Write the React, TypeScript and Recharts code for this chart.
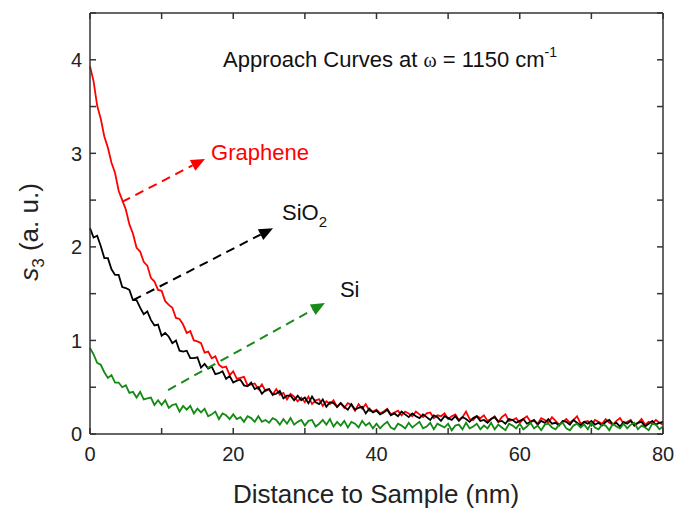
import React from "react";
import { LineChart, Line, XAxis, YAxis, ReferenceLine } from "recharts";

// s3 signal, sampled every 0.5 nm from 0 to 80 nm
const graphene = [
  3.93, 3.77, 3.51, 3.37, 3.18, 3.06, 2.9, 2.79, 2.6, 2.5,
  2.4, 2.24, 2.14, 1.99, 1.95, 1.84, 1.8, 1.67, 1.63, 1.54,
  1.53, 1.42, 1.38, 1.35, 1.24, 1.23, 1.17, 1.08, 1.1, 1.0,
  0.99, 0.97, 0.87, 0.88, 0.81, 0.83, 0.74, 0.71, 0.72, 0.63,
  0.67, 0.59, 0.6, 0.61, 0.52, 0.53, 0.54, 0.48, 0.53, 0.46,
  0.48, 0.42, 0.48, 0.42, 0.44, 0.37, 0.43, 0.4, 0.35, 0.39,
  0.34, 0.4, 0.32, 0.36, 0.37, 0.3, 0.35, 0.32, 0.36, 0.29,
  0.33, 0.28, 0.33, 0.31, 0.25, 0.32, 0.27, 0.32, 0.25, 0.24,
  0.26, 0.22, 0.24, 0.27, 0.21, 0.23, 0.25, 0.2, 0.24, 0.22,
  0.19, 0.24, 0.21, 0.18, 0.22, 0.23, 0.17, 0.2, 0.19, 0.22,
  0.16, 0.19, 0.21, 0.15, 0.18, 0.24, 0.16, 0.15, 0.19, 0.17,
  0.2, 0.14, 0.16, 0.19, 0.13, 0.18, 0.21, 0.14, 0.15, 0.17,
  0.12, 0.16, 0.19, 0.13, 0.14, 0.11, 0.17, 0.15, 0.12, 0.18,
  0.14, 0.1, 0.13, 0.16, 0.12, 0.15, 0.19, 0.11, 0.13, 0.14,
  0.09, 0.15, 0.13, 0.11, 0.16, 0.12, 0.1, 0.14, 0.17, 0.11,
  0.13, 0.15, 0.09, 0.12, 0.16, 0.1, 0.13, 0.11, 0.15, 0.12,
  0.1,
];

const sio2 = [
  2.2, 2.1, 2.12, 2.01, 1.88, 1.88, 1.76, 1.7, 1.7, 1.57,
  1.56, 1.54, 1.43, 1.43, 1.35, 1.28, 1.31, 1.22, 1.16, 1.17,
  1.05, 1.08, 1.04, 0.97, 1.0, 0.89, 0.88, 0.89, 0.81, 0.81,
  0.82, 0.71, 0.75, 0.7, 0.72, 0.64, 0.65, 0.67, 0.59, 0.62,
  0.55, 0.57, 0.58, 0.52, 0.51, 0.55, 0.48, 0.5, 0.43, 0.47,
  0.48, 0.42, 0.43, 0.46, 0.38, 0.41, 0.41, 0.36, 0.41, 0.36,
  0.39, 0.33, 0.4, 0.34, 0.32, 0.37, 0.29, 0.34, 0.33, 0.29,
  0.33, 0.29, 0.26, 0.32, 0.26, 0.28, 0.29, 0.22, 0.27, 0.23,
  0.25, 0.21, 0.23, 0.26, 0.2, 0.22, 0.19, 0.24, 0.21, 0.18,
  0.22, 0.19, 0.17, 0.21, 0.18, 0.15, 0.2, 0.18, 0.14, 0.19,
  0.17, 0.15, 0.19, 0.14, 0.18, 0.16, 0.13, 0.17, 0.19, 0.14,
  0.15, 0.12, 0.16, 0.18, 0.13, 0.14, 0.11, 0.16, 0.15, 0.12,
  0.14, 0.16, 0.11, 0.13, 0.15, 0.1, 0.14, 0.12, 0.16, 0.11,
  0.12, 0.09, 0.14, 0.13, 0.1, 0.15, 0.12, 0.09, 0.13, 0.11,
  0.14, 0.1, 0.12, 0.09, 0.13, 0.15, 0.1, 0.12, 0.08, 0.13,
  0.11, 0.14, 0.09, 0.12, 0.13, 0.08, 0.11, 0.14, 0.1, 0.12,
  0.13,
];

const si = [
  0.92, 0.85, 0.76, 0.74, 0.66, 0.6, 0.63, 0.55, 0.55, 0.5,
  0.52, 0.44, 0.45, 0.39, 0.45, 0.37, 0.38, 0.39, 0.31, 0.36,
  0.31, 0.36, 0.28, 0.31, 0.32, 0.24, 0.3, 0.26, 0.3, 0.22,
  0.27, 0.23, 0.27, 0.19, 0.21, 0.24, 0.16, 0.22, 0.2, 0.16,
  0.21, 0.16, 0.18, 0.13, 0.19, 0.17, 0.13, 0.19, 0.13, 0.15,
  0.12, 0.17, 0.15, 0.1, 0.16, 0.11, 0.17, 0.1, 0.13, 0.15,
  0.09, 0.14, 0.15, 0.08, 0.11, 0.15, 0.1, 0.16, 0.08, 0.13,
  0.09, 0.14, 0.07, 0.13, 0.11, 0.07, 0.14, 0.09, 0.12, 0.06,
  0.11, 0.06, 0.1, 0.13, 0.07, 0.05, 0.11, 0.09, 0.06, 0.12,
  0.07, 0.1, 0.13, 0.06, 0.08, 0.12, 0.05, 0.11, 0.09, 0.07,
  0.11, 0.04, 0.09, 0.1, 0.05, 0.12, 0.06, 0.08, 0.11, 0.05,
  0.09, 0.06, 0.12, 0.05, 0.1, 0.07, 0.04, 0.11, 0.09, 0.06,
  0.11, 0.05, 0.08, 0.12, 0.06, 0.09, 0.04, 0.1, 0.11, 0.07,
  0.05, 0.1, 0.12, 0.06, 0.04, 0.09, 0.11, 0.07, 0.1, 0.05,
  0.12, 0.07, 0.05, 0.1, 0.09, 0.04, 0.11, 0.08, 0.06, 0.11,
  0.06, 0.1, 0.12, 0.05, 0.09, 0.07, 0.04, 0.11, 0.1, 0.05,
  0.08,
];

const xTicks = [0, 10, 20, 30, 40, 50, 60, 70, 80];
const xLabeled = [0, 20, 40, 60, 80];
const yTicks = [0, 0.5, 1, 1.5, 2, 2.5, 3, 3.5, 4, 4.5];
const yLabeled = [0, 1, 2, 3, 4];

const data = graphene.map((v, i) => ({
  d: i * 0.5,
  graphene: v,
  sio2: sio2[i],
  si: si[i],
}));

const arrows = [
  { label: "Graphene", sub: "", color: "#ff0000", textColor: "#ff0000", from: { x: 4.47, y: 2.48 }, to: { x: 16.06, y: 2.94 }, dx: 6, dy: 1 },
  { label: "SiO", sub: "2", color: "#000000", textColor: "#111", from: { x: 6.0, y: 1.43 }, to: { x: 25.55, y: 2.2 }, dx: 9, dy: -8 },
  { label: "Si", sub: "", color: "#1a8a1a", textColor: "#111", from: { x: 10.9, y: 0.47 }, to: { x: 32.8, y: 1.4 }, dx: 15, dy: -6 },
];

const font = '"Liberation Sans", Arial, sans-serif';
const axisColor = "#333";
const tickLen = 6;

const BottomTick = (props: any) => {
  const { x, y, payload } = props;
  if (!xLabeled.includes(payload.value)) return <g />;
  return (
    <text x={x} y={y + 13} dy="0.71em" textAnchor="middle" fontSize={20} fill="#222" fontFamily={font}>
      {payload.value}
    </text>
  );
};

const LeftTick = (props: any) => {
  const { x, y, payload } = props;
  if (!yLabeled.includes(payload.value)) return <g />;
  return (
    <text x={x - 8} y={y} dy="0.36em" textAnchor="end" fontSize={20} fill="#222" fontFamily={font}>
      {payload.value}
    </text>
  );
};

const EmptyTick = () => <g />;

// inward tick marks at both ends of a full-height / full-width reference line
const VTicks = (props: any) => {
  const { x1, y1, x2, y2 } = props;
  const top = Math.min(y1, y2);
  const bottom = Math.max(y1, y2);
  return (
    <g>
      <line x1={x1} x2={x1} y1={bottom} y2={bottom - tickLen} stroke={axisColor} strokeWidth={1.5} />
      <line x1={x2} x2={x2} y1={top} y2={top + tickLen} stroke={axisColor} strokeWidth={1.5} />
    </g>
  );
};

const HTicks = (props: any) => {
  const { x1, y1, x2, y2 } = props;
  const left = Math.min(x1, x2);
  const right = Math.max(x1, x2);
  return (
    <g>
      <line x1={left} x2={left + tickLen} y1={y1} y2={y1} stroke={axisColor} strokeWidth={1.5} />
      <line x1={right} x2={right - tickLen} y1={y2} y2={y2} stroke={axisColor} strokeWidth={1.5} />
    </g>
  );
};

const arrowShape = (a: (typeof arrows)[number]) => (props: any) => {
  const { x1, y1, x2, y2 } = props;
  const ang = Math.atan2(y2 - y1, x2 - x1);
  const len = 14;
  const half = 6;
  const bx = x2 - len * Math.cos(ang);
  const by = y2 - len * Math.sin(ang);
  const pts = `${x2},${y2} ${bx + half * Math.sin(ang)},${by - half * Math.cos(ang)} ${bx - half * Math.sin(ang)},${by + half * Math.cos(ang)}`;
  return (
    <g>
      <line x1={x1} y1={y1} x2={bx} y2={by} stroke={a.color} strokeWidth={2} strokeDasharray="9 6" />
      <polygon points={pts} fill={a.color} />
      <text x={x2 + a.dx} y={y2 + a.dy} fontSize={22} fill={a.textColor} fontFamily={font}>
        {a.label}
        {a.sub && (
          <tspan fontSize={15} dy={7}>
            {a.sub}
          </tspan>
        )}
      </text>
    </g>
  );
};

export default function App() {
  return (
    <div style={{ position: "absolute", left: 0, top: 0, width: 676, height: 510, background: "#fff" }}>
      <LineChart
        width={676}
        height={510}
        data={data}
        margin={{ top: 12, right: 12, bottom: 36, left: 30 }}
      >
        <XAxis
          dataKey="d"
          type="number"
          domain={[0, 80]}
          ticks={xTicks}
          interval={0}
          height={40}
          stroke={axisColor}
          strokeWidth={1.5}
          tickLine={false}
          tickSize={0}
          tickMargin={0}
          tick={BottomTick}
        />
        <XAxis
          xAxisId="top"
          orientation="top"
          type="number"
          domain={[0, 80]}
          height={1}
          stroke={axisColor}
          strokeWidth={1.5}
          tickLine={false}
          tick={EmptyTick}
        />
        <YAxis
          type="number"
          domain={[0, 4.5]}
          ticks={yTicks}
          interval={0}
          width={60}
          stroke={axisColor}
          strokeWidth={1.5}
          tickLine={false}
          tickSize={0}
          tickMargin={0}
          tick={LeftTick}
        />
        <YAxis
          yAxisId="right"
          orientation="right"
          type="number"
          domain={[0, 4.5]}
          width={1}
          stroke={axisColor}
          strokeWidth={1.5}
          tickLine={false}
          tick={EmptyTick}
        />
        {xTicks.map((t) => (
          <ReferenceLine key={`vx${t}`} x={t} shape={VTicks} />
        ))}
        {yTicks.map((t) => (
          <ReferenceLine key={`hy${t}`} y={t} shape={HTicks} />
        ))}
        <Line type="linear" dataKey="graphene" stroke="#ff0000" strokeWidth={1.8} dot={false} isAnimationActive={false} />
        <Line type="linear" dataKey="sio2" stroke="#000000" strokeWidth={1.8} dot={false} isAnimationActive={false} />
        <Line type="linear" dataKey="si" stroke="#138a13" strokeWidth={1.8} dot={false} isAnimationActive={false} />
        {arrows.map((a) => (
          <ReferenceLine
            key={a.label}
            segment={[a.from, a.to]}
            shape={arrowShape(a)}
          />
        ))}
      </LineChart>
      <svg
        width={676}
        height={510}
        style={{ position: "absolute", left: 0, top: 0, pointerEvents: "none" }}
      >
        <text x={223} y={67} fontSize={22} fill="#111" fontFamily={font}>
          Approach Curves at{" "}
          <tspan fontFamily='"Liberation Serif", "DejaVu Serif", serif' fontSize={20}>ω</tspan> = 1150 cm
          <tspan fontSize={14} dy={-10}>-1</tspan>
        </text>
        <text x={376} y={503} fontSize={26} fill="#222" textAnchor="middle" fontFamily={font}>
          Distance to Sample (nm)
        </text>
        <text
          transform="translate(38,232) rotate(-90)"
          fontSize={26}
          fill="#222"
          textAnchor="middle"
          fontFamily={font}
        >
          <tspan fontStyle="italic">s</tspan>
          <tspan fontSize={17} dy={6}>3</tspan>
          <tspan dy={-6}> (a. u.)</tspan>
        </text>
      </svg>
    </div>
  );
}
